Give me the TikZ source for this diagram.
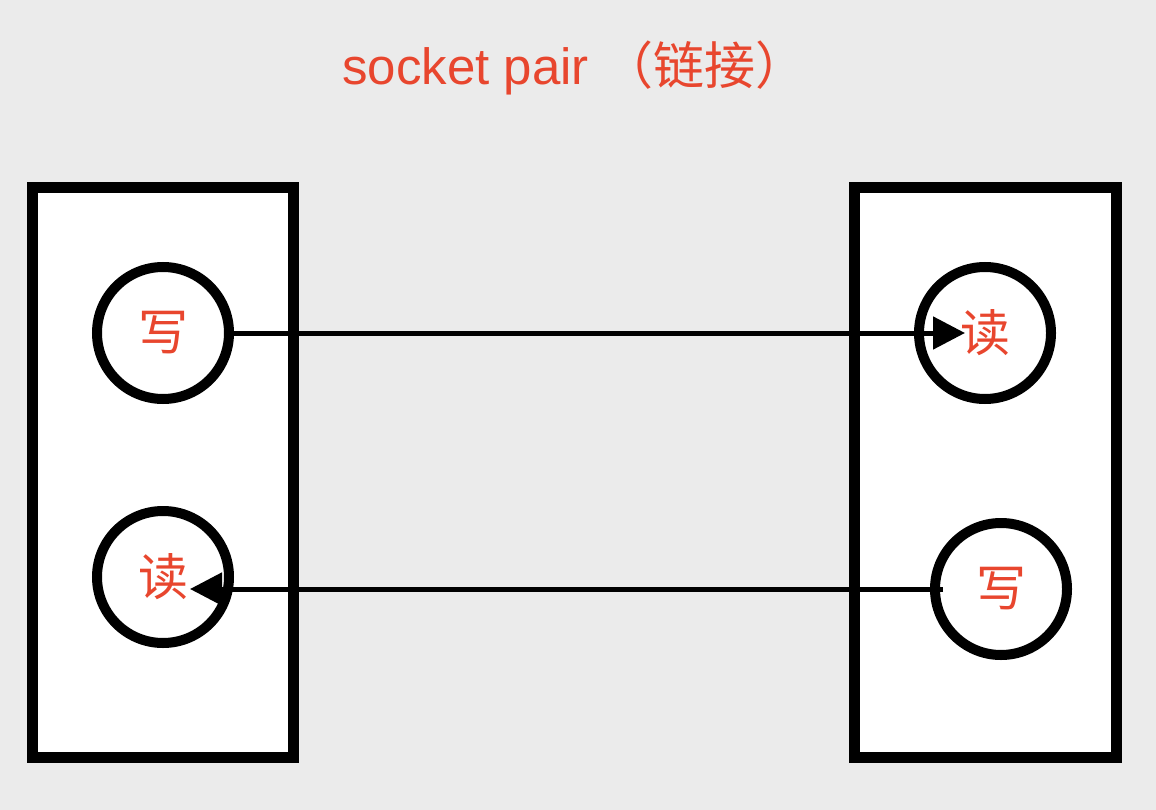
\documentclass[tikz,border=0pt]{standalone}
\usepackage{fontspec}
\setmainfont{Liberation Sans}
\newfontfamily\cjk{Noto Sans CJK SC}
\usetikzlibrary{arrows.meta}
\definecolor{canvasgray}{HTML}{EBEBEB}
\definecolor{labelred}{HTML}{E8462E}

\begin{document}
\begin{tikzpicture}[x=1pt,y=-1pt,
		endbox/.style={draw,fill=white,line width=11pt,inner sep=0pt},
		port/.style={draw,circle,fill=white,line width=10pt,minimum size=132pt,inner sep=0pt,text=labelred,font=\cjk\fontsize{50}{50}\selectfont},
		link/.style={line width=5pt,-{Triangle[length=32pt,width=32pt]}}]
		\useasboundingbox (0,0) rectangle (1156,810);
		\fill[canvasgray] (0,0) rectangle (1156,810);
		
		\node[anchor=base west,inner sep=0pt,text=labelred,font=\fontsize{51}{60}\selectfont] (title) at (342,85) {socket pair {\cjk （链接）}};
		
		\node[endbox,minimum width=261pt,minimum height=569.5pt] (sockA) at (163,472.75) {};
		\node[endbox,minimum width=262pt,minimum height=569.5pt] (sockB) at (985.5,472.75) {};
		
		\node[port] (wA) at (163,333) {写};
		\node[port] (rA) at (163,577) {读};
		\node[port] (rB) at (985,333) {读};
		\node[port] (wB) at (1001,589) {写};
		
		\draw[link,shorten >=20pt] (wA) -- (rB.center);
		\draw[link] ([shift={(13,0)}]wB.west) -- ([shift={(27,12)}]rA.center);
	\end{tikzpicture}
\end{document}
